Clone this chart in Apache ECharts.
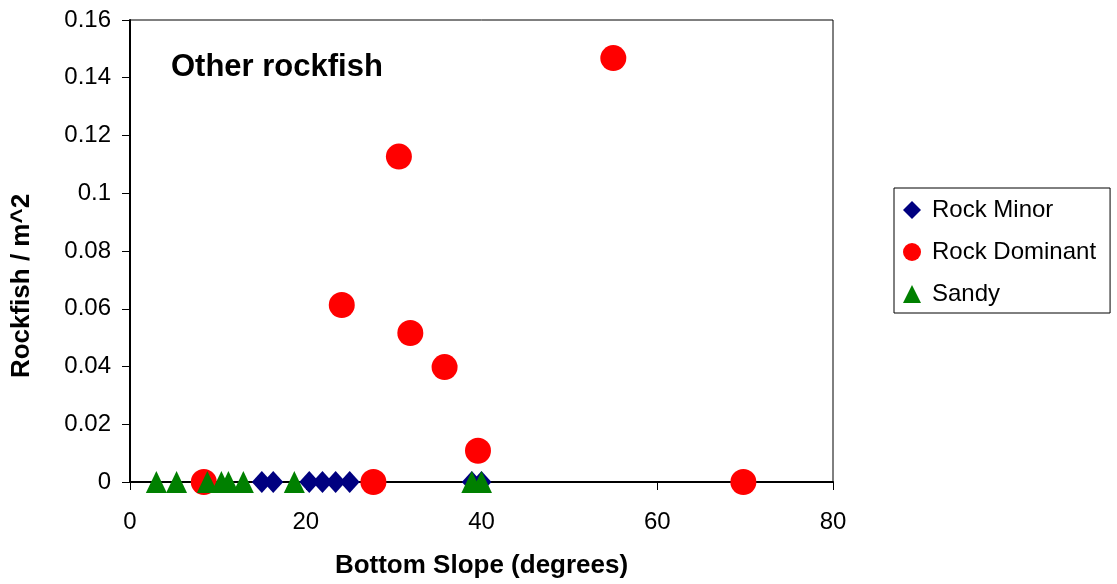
<!DOCTYPE html>
<html><head><meta charset="utf-8">
<script src="https://cdn.jsdelivr.net/npm/echarts@6/dist/echarts.min.js"></script>
<style>html,body{margin:0;padding:0;background:#fff}#c{width:1117px;height:584px}</style>
</head><body><div id="c"></div>
<script>
const rockMinorX = [15.0, 16.3, 20.4, 21.9, 23.4, 25.0, 38.9, 40.0];
const rockMinorY = [0, 0, 0, 0, 0, 0, 0, 0];
const rockDominantX = [8.4, 24.1, 27.7, 30.6, 31.9, 35.8, 39.6, 55.0, 69.8];
const rockDominantY = [0, 0.0613, 0, 0.1127, 0.0516, 0.0398, 0.0108, 0.1468, 0];
const sandyX = [3.0, 5.3, 8.8, 10.4, 11.2, 12.9, 18.7, 38.9, 40.0];
const sandyY = [0, 0, 0, 0, 0, 0, 0, 0, 0];
const xTicks = [0, 20, 40, 60, 80];
const yTicks = [0, 0.02, 0.04, 0.06, 0.08, 0.1, 0.12, 0.14, 0.16];

const zip = (xs, ys) => xs.map((x, i) => [x, ys[i]]);
const font = 'Liberation Sans, Arial, sans-serif';
const chart = echarts.init(document.getElementById('c'), null, {renderer: 'canvas'});
chart.setOption({
  animation: false,
  backgroundColor: '#fff',
  title: {
    text: 'Other rockfish', left: 171, top: 52, padding: 0,
    textStyle: {fontFamily: font, fontSize: 31, fontWeight: 'bold', color: '#000'}
  },
  grid: {left: 130, right: 284, top: 20, bottom: 102, show: true, borderColor: '#000', borderWidth: 1, backgroundColor: '#fff'},
  legend: {
    orient: 'vertical', left: 894, top: 188,
    padding: [10, 14, 7, 9], itemGap: 18, itemWidth: 18, itemHeight: 18,
    borderColor: '#000', borderWidth: 1,
    textStyle: {fontFamily: font, fontSize: 24, color: '#000', padding: [0, 0, 0, 6]},
    data: [
      {name: 'Rock Minor', icon: 'diamond', itemStyle: {color: '#000080'}},
      {name: 'Rock Dominant', icon: 'circle', itemStyle: {color: '#ff0000'}},
      {name: 'Sandy', icon: 'triangle', itemStyle: {color: '#008000'}}
    ]
  },
  xAxis: {
    type: 'value', min: xTicks[0], max: xTicks[xTicks.length - 1], interval: 20,
    name: 'Bottom Slope (degrees)', nameLocation: 'middle', nameGap: 71,
    nameTextStyle: {fontFamily: font, fontSize: 26, fontWeight: 'bold', color: '#000'},
    axisLine: {onZero: false, lineStyle: {color: '#000', width: 2}},
    axisTick: {show: true, inside: false, length: 8, lineStyle: {color: '#000', width: 1}},
    axisLabel: {fontFamily: font, fontSize: 24, color: '#000', margin: 28},
    splitLine: {show: false}
  },
  yAxis: {
    type: 'value', min: yTicks[0], max: yTicks[yTicks.length - 1], interval: 0.02,
    name: 'Rockfish / m^2', nameLocation: 'middle', nameGap: 95, nameRotate: 90,
    nameTextStyle: {fontFamily: font, fontSize: 26, fontWeight: 'bold', color: '#000', padding: [0, 70, 0, 0]},
    axisLine: {onZero: false, lineStyle: {color: '#000', width: 2}},
    axisTick: {show: true, inside: false, length: 8, lineStyle: {color: '#000', width: 1}},
    axisLabel: {fontFamily: font, fontSize: 24, color: '#000', margin: 19,
      formatter: v => String(parseFloat(v.toFixed(2)))},
    splitLine: {show: false}
  },
  series: [
    {name: 'Rock Minor', type: 'scatter', symbol: 'diamond', symbolSize: [20, 22],
     itemStyle: {color: '#000080', opacity: 1}, data: zip(rockMinorX, rockMinorY), clip: false},
    {name: 'Rock Dominant', type: 'scatter', symbol: 'circle', symbolSize: 26,
     itemStyle: {color: '#ff0000', opacity: 1}, data: zip(rockDominantX, rockDominantY), clip: false},
    {name: 'Sandy', type: 'scatter', symbol: 'triangle', symbolSize: [21, 22],
     itemStyle: {color: '#008000', opacity: 1}, data: zip(sandyX, sandyY), clip: false}
  ]
});
</script></body></html>
